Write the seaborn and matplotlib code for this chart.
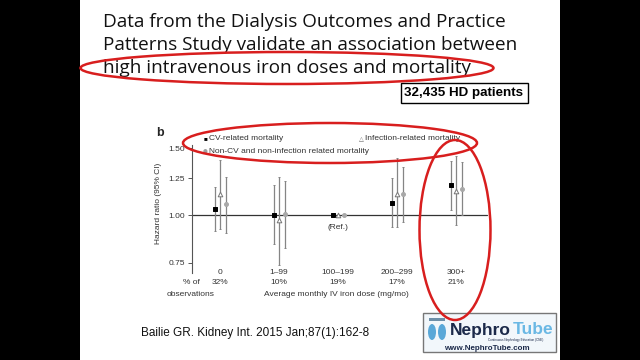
import numpy as np
import pandas as pd
import matplotlib
matplotlib.use("Agg")
import matplotlib.pyplot as plt
import seaborn as sns
from matplotlib.patches import Rectangle, Ellipse

# data
doses = ["0", "1\u201399", "100\u2013199", "200\u2013299", "300+"]
pct_obs = ["32%", "10%", "19%", "17%", "21%"]
cv_hr = [1.04, 1.00, 1.00, 1.08, 1.20]
cv_lo = [0.91, 0.84, 1.00, 0.93, 1.03]
cv_hi = [1.19, 1.20, 1.00, 1.25, 1.39]
inf_hr = [1.14, 0.97, 1.00, 1.14, 1.16]
inf_lo = [0.92, 0.74, 1.00, 0.93, 0.94]
inf_hi = [1.40, 1.26, 1.00, 1.41, 1.43]
oth_hr = [1.07, 1.01, 1.00, 1.14, 1.17]
oth_lo = [0.90, 0.82, 1.00, 0.96, 1.00]
oth_hi = [1.26, 1.23, 1.00, 1.34, 1.38]
ref_idx = 2

sns.set_style("white")
plt.rcParams["font.family"] = ["Liberation Sans", "DejaVu Sans"]

W, H = 640, 360
fig = plt.figure(figsize=(6.4, 3.6), dpi=100, facecolor="black")


def fx(px):
    return px / W


def fy(py):
    return 1 - py / H


# white slide behind everything
fig.patches.append(Rectangle((fx(80), 0), fx(480), 1, transform=fig.transFigure,
                             facecolor="white", edgecolor="none", zorder=-10))

# slide title
title_lines = ["Data from the Dialysis Outcomes and Practice",
               "Patterns Study validate an association between",
               "high intravenous iron doses and mortality"]
for i, line in enumerate(title_lines):
    fig.text(fx(103), fy(22 + 23 * i), line, fontsize=13.6, family="Open Sans",
             color="#111111", va="center", ha="left")

# patients box
fig.text(fx(464), fy(93), "32,435 HD patients", fontsize=9.6, fontweight="bold",
         ha="center", va="center", color="black",
         bbox=dict(boxstyle="square,pad=0.3", facecolor="white", edgecolor="black", linewidth=1))

# chart axes
ax = fig.add_axes([fx(192), fy(273), fx(490 - 192), 128 / H])
ax.set_facecolor("none")

series = [
    ("CV-related mortality", cv_hr, cv_lo, cv_hi, -0.09, "s", "black", "black", 9),
    ("Infection-related mortality", inf_hr, inf_lo, inf_hi, 0.0, "^", "white", "#777777", 11),
    ("Non-CV and non-infection related mortality", oth_hr, oth_lo, oth_hi, 0.10, "o", "#a8a8a8", "#a8a8a8", 8),
]

x = np.arange(len(doses))
for name, hr, lo, hi, off, mk, fc, ec, size in series:
    df = pd.DataFrame({"pos": x + off, "hr": hr, "lo": lo, "hi": hi})
    ci = df.drop(index=ref_idx)
    ax.vlines(ci["pos"], ci["lo"], ci["hi"], color="#858585", linewidth=0.9, zorder=2)
    ax.hlines(ci["lo"], ci["pos"] - 0.02, ci["pos"] + 0.02, color="#858585", linewidth=0.7, zorder=2)
    ax.hlines(ci["hi"], ci["pos"] - 0.02, ci["pos"] + 0.02, color="#858585", linewidth=0.7, zorder=2)
    sns.scatterplot(data=df, x="pos", y="hr", marker=mk, color=fc, edgecolor=ec,
                    linewidth=0.7, s=size, ax=ax, zorder=3, legend=False)

ax.set_yscale("log")
ax.set_ylim(0.705, 1.53)
ax.set_xlim(-0.475, 4.576)
ax.plot([-0.475, 4.525], [1, 1], color="#333333", linewidth=0.9, zorder=1)

yt = [0.75, 1.0, 1.25, 1.5]
ax.set_yticks(yt)
ax.set_yticklabels([f"{v:.2f}" for v in yt], fontsize=6, color="#333333")
ax.yaxis.set_minor_locator(matplotlib.ticker.NullLocator())
ax.tick_params(axis="y", length=3, width=0.7, color="#555555", pad=2, left=True)
ax.set_xticks([])
ax.set_xlabel("")
ax.set_ylabel("")
for s in ["top", "right", "bottom"]:
    ax.spines[s].set_visible(False)
ax.spines["left"].set_color("#555555")
ax.spines["left"].set_linewidth(0.8)

# category labels under the chart
xt = ax.get_xaxis_transform()
for i in range(len(doses)):
    ax.text(x[i], (273 - 272) / 128, doses[i], transform=xt, ha="center", va="center",
            fontsize=6, color="#333333")
    ax.text(x[i], (273 - 283) / 128, pct_obs[i], transform=xt, ha="center", va="center",
            fontsize=6, color="#333333")
ax.text(x[ref_idx], 0.93, "(Ref.)", ha="center", va="center", fontsize=6, color="#333333")

fig.text(fx(191), fy(283), "% of", fontsize=6, ha="center", va="center", color="#333333")
fig.text(fx(191), fy(295), "observations", fontsize=6, ha="center", va="center", color="#333333")
fig.text(fx(264), fy(295), "Average monthly IV iron dose (mg/mo)", fontsize=6,
         ha="left", va="center", color="#333333")
fig.text(fx(158), fy(203), "Hazard ratio (95% CI)", fontsize=6, rotation=90,
         ha="center", va="center", color="#333333")
fig.text(fx(160), fy(133), "b", fontsize=9, fontweight="bold", ha="center", va="center")

# legend drawn as text
fig.text(fx(205), fy(139), "\u25a0", fontsize=4.5, ha="center", va="center", color="black")
fig.text(fx(209), fy(139), "CV-related mortality", fontsize=6, ha="left", va="center", color="#333333")
fig.text(fx(361), fy(139), "\u25b3", fontsize=4.5, ha="center", va="center", color="#666666",
         family="DejaVu Sans")
fig.text(fx(365), fy(139), "Infection-related mortality", fontsize=6, ha="left", va="center",
         color="#333333")
fig.text(fx(205), fy(151), "\u25cf", fontsize=4, ha="center", va="center", color="#a0a0a0",
         family="DejaVu Sans")
fig.text(fx(209), fy(151), "Non-CV and non-infection related mortality", fontsize=6,
         ha="left", va="center", color="#333333")

# red hand-drawn ellipses
red = "#d81e1e"
for cx, cy, ew, eh, ang in [(287, 68, 413, 32, 0), (330, 143, 294, 40, 0), (455, 230, 71, 180, 0)]:
    fig.patches.append(Ellipse((fx(cx), fy(cy)), fx(ew), eh / H, angle=ang,
                               transform=fig.transFigure, fill=False, edgecolor=red,
                               linewidth=1.8, zorder=5))

# citation
fig.text(fx(141), fy(333), "Bailie GR. Kidney Int. 2015 Jan;87(1):162-8", fontsize=8.5,
         ha="left", va="center", color="#111111")

# NephroTube logo
fig.patches.append(Rectangle((fx(423), fy(352)), fx(133), 39 / H, transform=fig.transFigure,
                             facecolor="#f2f7fb", edgecolor="#777777", linewidth=1, zorder=4))
fig.patches.append(Ellipse((fx(432), fy(332)), fx(8), 16 / H, transform=fig.transFigure,
                           facecolor="#5aa8d8", edgecolor="none", zorder=5))
fig.patches.append(Ellipse((fx(442), fy(332)), fx(8), 16 / H, transform=fig.transFigure,
                           facecolor="#5aa8d8", edgecolor="none", zorder=5))
fig.patches.append(Rectangle((fx(429), fy(321)), fx(16), 3 / H, transform=fig.transFigure,
                             facecolor="#6d8fa8", edgecolor="none", zorder=5))
fig.text(fx(450), fy(330), "Nephro", fontsize=12.5, fontweight="bold", color="#1c2a4a",
         ha="left", va="center", zorder=6)
fig.text(fx(513), fy(330), "Tube", fontsize=12.5, fontweight="bold", color="#6ab8e4",
         ha="left", va="center", zorder=6)
fig.text(fx(516), fy(340), "Continuous Nephrology Education (CNE)", fontsize=2.2, color="#1c2a4a",
         ha="center", va="center", zorder=6)
fig.text(fx(487), fy(348), "www.NephroTube.com", fontsize=5.8, fontweight="bold", color="#1c2a4a",
         ha="center", va="center", zorder=6)

fig.savefig("out.png", dpi=100, facecolor="black")
